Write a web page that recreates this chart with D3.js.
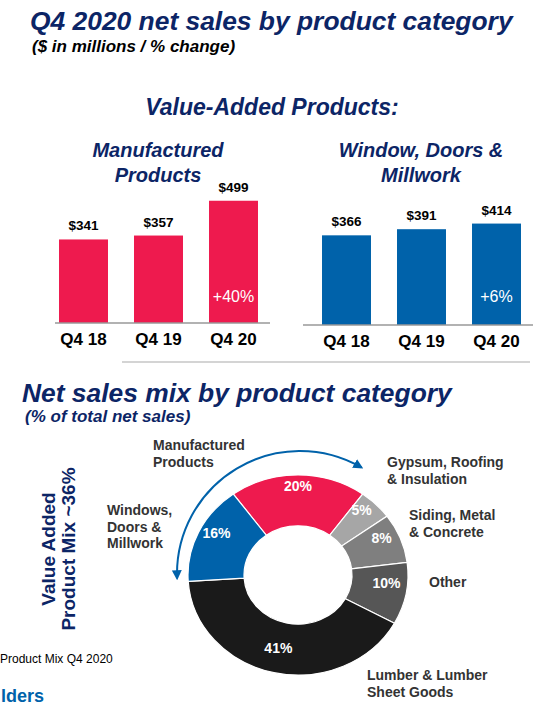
<!DOCTYPE html>
<html><head><meta charset="utf-8">
<script src="https://cdn.jsdelivr.net/npm/d3@7/dist/d3.min.js"></script>
<style>
html,body{margin:0;padding:0;background:#fff;}
svg{display:block;font-family:"Liberation Sans",Arial,sans-serif;}
</style></head>
<body>
<script>
// ---- data ----
const barCategories = ["Q4 18", "Q4 19", "Q4 20"];
const manufacturedValues = [341, 357, 499];
const windowsValues = [366, 391, 414];
const manufacturedChange = "+40%";
const windowsChange = "+6%";
const mixCategories = ["Manufactured Products", "Gypsum, Roofing & Insulation", "Siding, Metal & Concrete", "Other", "Lumber & Lumber Sheet Goods", "Windows, Doors & Millwork"];
const mixValues = [20, 5, 8, 10, 41, 16];

const NAVY = "#0c2566", RED = "#ee1a4e", BLUE = "#0062aa";
const mixColors = [RED, "#a6a6a6", "#7f7f7f", "#565656", "#1a1a1a", BLUE];

const W = 555, H = 708;
const svg = d3.select("body").append("svg").attr("width", W).attr("height", H);

function txt(x, y, s, size, opts = {}) {
  return svg.append("text").attr("x", x).attr("y", y).text(s)
    .attr("font-size", size)
    .attr("font-weight", opts.weight || "bold")
    .attr("font-style", opts.italic ? "italic" : "normal")
    .attr("fill", opts.fill || "#000")
    .attr("text-anchor", opts.anchor || "start");
}

// ---- titles ----
txt(30, 30, "Q4 2020 net sales by product category", 26.4, {italic: true, fill: NAVY});
txt(32, 52, "($ in millions / % change)", 17, {italic: true, fill: "#000"});
txt(272, 115, "Value-Added Products:", 23, {italic: true, fill: NAVY, anchor: "middle"});
txt(158, 157, "Manufactured", 20, {italic: true, fill: NAVY, anchor: "middle"});
txt(158, 182, "Products", 20, {italic: true, fill: NAVY, anchor: "middle"});
txt(421, 157, "Window, Doors &", 20, {italic: true, fill: NAVY, anchor: "middle"});
txt(421, 182, "Millwork", 20, {italic: true, fill: NAVY, anchor: "middle"});

// ---- bar charts ----
const y = d3.scaleLinear().domain([0, 500]).range([0, 122.5]);
function barChart(values, color, x0, x1, base, axisX0, axisX1, change) {
  const x = d3.scaleBand().domain(barCategories).range([x0, x1]).paddingInner(0.347).paddingOuter(0.1735);
  const g = svg.append("g");
  g.selectAll("rect").data(values).join("rect")
    .attr("x", (d, i) => x(barCategories[i]))
    .attr("width", x.bandwidth())
    .attr("y", d => base - y(d))
    .attr("height", d => y(d))
    .attr("fill", color);
  g.append("line").attr("x1", axisX0).attr("x2", axisX1).attr("y1", base).attr("y2", base)
    .attr("stroke", "#999").attr("stroke-width", 1.5);
  g.selectAll("text.val").data(values).join("text").attr("class", "val")
    .attr("x", (d, i) => x(barCategories[i]) + x.bandwidth() / 2)
    .attr("y", d => base - y(d) - 9)
    .attr("text-anchor", "middle").attr("font-size", 13.5).attr("font-weight", "bold")
    .text(d => "$" + d);
  const axis = d3.axisBottom(x).tickSize(0).tickPadding(0);
  const ag = g.append("g").attr("transform", `translate(0,${base})`).call(axis);
  ag.select(".domain").remove();
  ag.selectAll("text").attr("font-size", 17).attr("font-weight", "bold")
    .attr("font-family", "'Liberation Sans',Arial,sans-serif").attr("fill", "#000")
    .attr("dy", null).attr("y", 22);
  const last = barCategories[barCategories.length - 1];
  g.append("text").attr("x", x(last) + x.bandwidth() / 2).attr("y", 302)
    .attr("text-anchor", "middle").attr("font-size", 16).attr("fill", "#fff").text(change);
}
barChart(manufacturedValues, RED, 46, 271, 323, 55, 270, manufacturedChange);
barChart(windowsValues, BLUE, 309, 534, 325, 303, 533, windowsChange);
svg.append("line").attr("x1", 122).attr("x2", 530).attr("y1", 362).attr("y2", 362)
  .attr("stroke", "#aaa").attr("stroke-width", 1.2);

// ---- mix section ----
txt(22, 402, "Net sales mix by product category", 26.4, {italic: true, fill: NAVY});
txt(25, 422, "(% of total net sales)", 17, {italic: true, fill: NAVY});

const cx = 298, cy = 575, sy = 0.91;
const pie = d3.pie().sort(null).startAngle(-36 * Math.PI / 180).endAngle(-36 * Math.PI / 180 + 2 * Math.PI);
const arcs = pie(mixValues);
const arc = d3.arc().innerRadius(54).outerRadius(110);
const labelArc = d3.arc().innerRadius(90).outerRadius(90);
svg.append("g").attr("transform", `translate(${cx},${cy}) scale(1,${sy})`)
  .selectAll("path").data(arcs).join("path")
  .attr("d", arc).attr("fill", (d, i) => mixColors[i])
  .attr("stroke", "#fff").attr("stroke-width", 1.2).attr("vector-effect", "non-scaling-stroke");
svg.append("g").selectAll("text").data(arcs).join("text")
  .attr("x", d => cx + labelArc.centroid(d)[0])
  .attr("y", d => cy + labelArc.centroid(d)[1] * sy - 2)
  .attr("text-anchor", "middle").attr("font-size", 14).attr("font-weight", "bold").attr("fill", "#fff")
  .text(d => d.data + "%");

// arrow arc
const defs = svg.append("defs");
defs.append("marker").attr("id", "ah").attr("viewBox", "0 0 10 10").attr("refX", 8).attr("refY", 5)
  .attr("markerWidth", 10).attr("markerHeight", 10).attr("markerUnits", "userSpaceOnUse")
  .attr("orient", "auto-start-reverse")
  .append("path").attr("d", "M0,0 L10,5 L0,10 Z").attr("fill", BLUE);
const ar = 123, acx = 300, acy = 574;
const deg = Math.PI / 180;
const p = d3.path();
p.arc(acx, acy, ar, (-92 - 90) * deg, (30 - 90) * deg, false);
svg.append("path").attr("d", p.toString()).attr("fill", "none").attr("stroke", BLUE)
  .attr("stroke-width", 2).attr("marker-start", "url(#ah)").attr("marker-end", "url(#ah)");

// category labels
const LBL = "#333";
function multi(x, y0, lines, size) {
  lines.forEach((l, i) => txt(x, y0 + i * 16.5, l, size, {fill: LBL}));
}
multi(153, 450, ["Manufactured", "Products"], 14);
multi(387, 467, ["Gypsum, Roofing", "& Insulation"], 14);
multi(409, 520, ["Siding, Metal", "& Concrete"], 14);
multi(429, 587, ["Other"], 14);
multi(367, 680, ["Lumber & Lumber", "Sheet Goods"], 14);
multi(107, 515, ["Windows,", "Doors &", "Millwork"], 14);

// rotated side label
const side = svg.append("g").attr("transform", "rotate(-90)");
side.append("text").attr("x", -549).attr("y", 55).attr("text-anchor", "middle")
  .attr("font-size", 19).attr("font-weight", "bold").attr("fill", NAVY).text("Value Added");
side.append("text").attr("x", -549).attr("y", 75).attr("text-anchor", "middle")
  .attr("font-size", 19).attr("font-weight", "bold").attr("fill", NAVY).text("Product Mix ~36%");

txt(0, 663, "Product Mix Q4 2020", 12, {weight: "normal", fill: "#000"});
txt(1, 702, "lders", 18, {fill: BLUE});
</script>
</body></html>
